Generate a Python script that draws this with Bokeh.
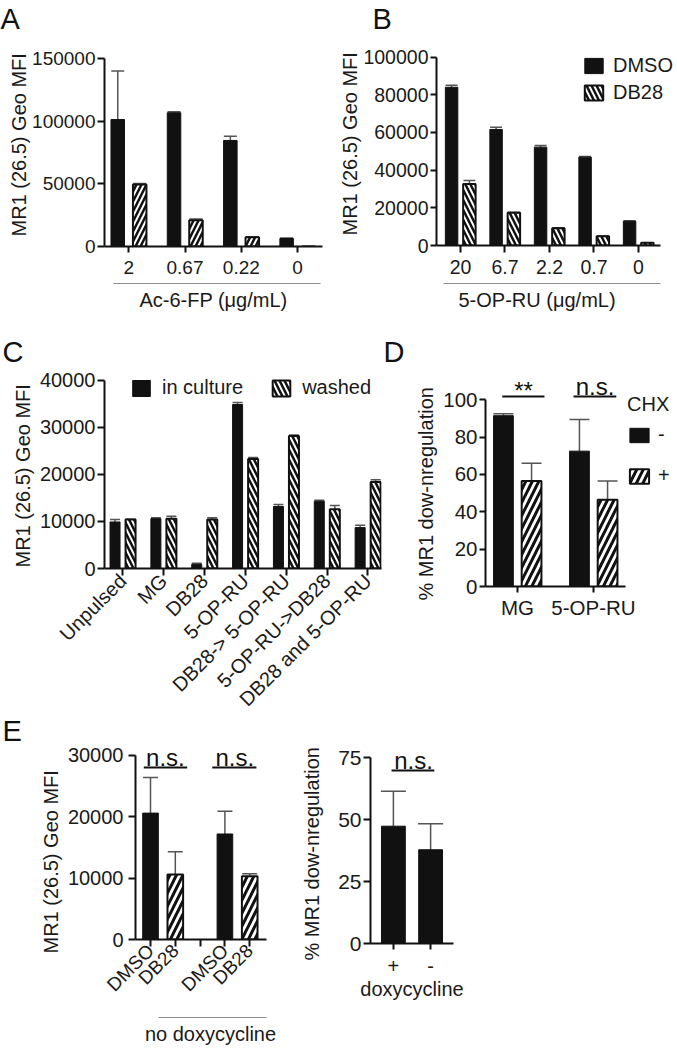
import math
from bokeh.plotting import figure
from bokeh.models import (Range1d, FixedTicker, LinearAxis, BasicTickFormatter,
                          Whisker, TeeHead, ColumnDataSource, Label, Title)
from bokeh.layouts import row, column
from bokeh.embed import file_html
from bokeh.resources import INLINE

FONT = "Liberation Sans"
INK = "#111111"
TXT = "#1a1a1a"
ERR = "#555555"
GREY = "#8c8c8c"

# ---------------- data ----------------
A_conc = ["2", "0.67", "0.22", "0"]
A_dmso = [101300, 106700, 84600, 6400]
A_dmso_err = [38700, 800, 3400, 300]
A_db28 = [49500, 21000, 7400, 0]
A_db28_err = [700, 1000, 300, 0]

B_conc = ["20", "6.7", "2.2", "0.7", "0"]
B_dmso = [84000, 61600, 52200, 46900, 12900]
B_dmso_err = [1000, 1100, 900, 300, 300]
B_db28 = [32700, 17400, 9200, 4900, 1400]
B_db28_err = [1800, 300, 200, 200, 100]

C_cond = ["Unpulsed", "MG", "DB28", "5-OP-RU", "DB28-> 5-OP-RU",
          "5-OP-RU->DB28", "DB28 and 5-OP-RU"]
C_culture = [9900, 10600, 900, 34900, 13200, 14300, 8700]
C_culture_err = [500, 200, 200, 400, 400, 200, 500]
C_washed = [10400, 10600, 10400, 23300, 28200, 12600, 18400]
C_washed_err = [100, 500, 400, 300, 200, 800, 500]

D_groups = ["MG", "5-OP-RU"]
D_minus = [91.5, 72.5]
D_minus_err = [1.0, 17.0]
D_plus = [56.5, 46.5]
D_plus_err = [9.5, 10.0]
D_sig = ["**", "n.s."]

E1_labels = ["DMSO", "DB28", "", "DMSO", "DB28"]
E1_dmso = [20600, 17200]
E1_dmso_err = [5800, 3700]
E1_db28 = [10600, 10300]
E1_db28_err = [3700, 400]
E1_sig = ["n.s.", "n.s."]

E2_labels = ["+", "-"]
E2_vals = [47.3, 37.8]
E2_err = [14.1, 10.5]
E2_sig = ["n.s."]


# ---------------- helpers ----------------
def base_fig(w, h, borders, xr, yr, letter, letter_offset, letter_standoff):
    bl, br, bt, bb = borders
    p = figure(width=w, height=h, x_range=Range1d(*xr), y_range=Range1d(*yr),
               min_border_left=bl, min_border_right=br,
               min_border_top=bt, min_border_bottom=bb,
               output_backend="svg", toolbar_location=None, tools="",
               frame_align=False)
    p.outline_line_color = None
    p.xgrid.visible = False
    p.ygrid.visible = False
    p.background_fill_color = None
    p.border_fill_color = None
    t = p.title
    t.text = letter
    t.align = "left"
    t.offset = letter_offset
    t.standoff = letter_standoff
    t.text_font = FONT
    t.text_font_size = "29px"
    t.text_font_style = "normal"
    t.text_color = INK
    return p


def axis_common(ax, tick_size, tick_out, standoff):
    ax.axis_line_color = INK
    ax.axis_line_width = 2
    ax.major_tick_line_color = INK
    ax.major_tick_line_width = 2
    ax.major_tick_out = tick_out
    ax.major_tick_in = 0
    ax.minor_tick_line_color = None
    ax.minor_tick_out = 0
    ax.minor_tick_in = 0
    ax.major_label_text_font = FONT
    ax.major_label_text_font_size = tick_size
    ax.major_label_text_color = TXT
    ax.major_label_standoff = standoff
    ax.axis_label_text_font = FONT
    ax.axis_label_text_font_size = "20px"
    ax.axis_label_text_font_style = "normal"
    ax.axis_label_text_color = TXT


def style_y(p, ticks, label, tick_size, tick_out, standoff, label_offset, label_standoff):
    ax = p.yaxis[0]
    ax.ticker = FixedTicker(ticks=ticks)
    ax.formatter = BasicTickFormatter(use_scientific=False)
    ax.bounds = (0, ticks[-1])
    axis_common(ax, tick_size, tick_out, standoff)
    p.add_layout(Title(text=label, align="left", offset=label_offset,
                       standoff=label_standoff, text_font=FONT,
                       text_font_size="20px", text_font_style="normal",
                       text_color=TXT), "left")


def style_x(p, labels, tick_size, tick_out, standoff, bounds=None,
            orientation=None, spacer=None, label=None, label_standoff=0):
    ax = p.xaxis[0]
    ax.ticker = FixedTicker(ticks=list(range(len(labels))))
    ax.major_label_overrides = {i: lab for i, lab in enumerate(labels)}
    axis_common(ax, tick_size, tick_out, standoff)
    if bounds is not None:
        ax.bounds = bounds
    if orientation is not None:
        ax.major_label_orientation = orientation
    if label is not None:
        ax.axis_label = label
        ax.axis_label_standoff = label_standoff
    elif spacer is not None:
        ax.axis_label = "\u00a0"
        ax.axis_label_text_font_size = "1px"
        ax.axis_label_standoff = spacer


def group_axis(p, lo, hi, text, standoff, title_offset=None):
    ax = LinearAxis(ticker=FixedTicker(ticks=[]), bounds=(lo, hi))
    ax.axis_line_color = GREY
    ax.axis_line_width = 1.2
    ax.major_tick_out = 0
    ax.major_tick_in = 0
    ax.minor_tick_out = 0
    ax.minor_tick_in = 0
    ax.major_tick_line_color = None
    ax.minor_tick_line_color = None
    ax.major_label_standoff = 0
    ax.axis_label_text_font = FONT
    ax.axis_label_text_font_size = "20px"
    ax.axis_label_text_font_style = "normal"
    ax.axis_label_text_color = TXT
    p.add_layout(ax, "below")
    if title_offset is None:
        ax.axis_label = text
        ax.axis_label_standoff = standoff
    else:
        p.add_layout(Title(text=text, align="left", offset=title_offset,
                           vertical_align="top", standoff=standoff,
                           text_font=FONT, text_font_size="20px",
                           text_font_style="normal", text_color=TXT), "below")


def solid_bars(p, xs, tops, width, legend=None):
    kw = dict(x=xs, top=tops, width=width, fill_color=INK, line_color=INK, line_width=1)
    if legend:
        kw["legend_label"] = legend
    p.vbar(**kw)


def hatch_bars(p, xs, tops, width, pattern, scale, weight, legend=None):
    kw = dict(x=xs, top=tops, width=width, fill_color="white", line_color=INK,
              line_width=2, hatch_pattern=pattern, hatch_color=INK,
              hatch_scale=scale, hatch_weight=weight)
    if legend:
        kw["legend_label"] = legend
    p.vbar(**kw)


def err_bars(p, xs, tops, errs, cap):
    src = ColumnDataSource(dict(x=xs, lo=tops, hi=[t + e for t, e in zip(tops, errs)]))
    w = Whisker(source=src, base="x", lower="lo", upper="hi", dimension="height",
                line_color=ERR, line_width=1.5, lower_head=None,
                upper_head=TeeHead(size=cap, line_color=ERR, line_width=1.5))
    p.add_layout(w)


def sig(p, texts, xs, x0s, x1s, y, offsets):
    p.segment(x0=x0s, y0=[y] * len(x0s), x1=x1s, y1=[y] * len(x1s),
              line_width=2, line_color=INK)
    for t, x, off in zip(texts, xs, offsets):
        p.add_layout(Label(x=x, y=y, text=t, text_font=FONT, text_font_size="24px",
                           text_color=INK, text_align="center",
                           text_baseline="alphabetic", y_offset=off))


def legend_style(p, loc, gw, gh, spacing, standoff, orientation="vertical"):
    lg = p.legend[0]
    lg.location = loc
    lg.orientation = orientation
    lg.glyph_width = gw
    lg.glyph_height = gh
    lg.label_text_font = FONT
    lg.label_text_font_size = "20px"
    lg.label_text_color = TXT
    lg.label_standoff = standoff
    lg.spacing = spacing
    lg.padding = 0
    lg.margin = 0
    lg.border_line_color = None
    lg.background_fill_alpha = 0
    return lg


def shift(xs, d):
    return [x + d for x in xs]


# ---------------- panel A ----------------
pA = base_fig(330, 318, (104, 8, 35, 72), (-0.43, 3.442), (0, 168351), "A", -104, 1)
style_y(pA, [0, 50000, 100000, 150000], "MR1 (26.5) Geo MFI", "19px", 7, 2, 10, 0)
style_x(pA, A_conc, "19px", 6, 8, spacer=3)
group_axis(pA, -0.27, 3.41, "Ac-6-FP (μg/mL)", 5)
xa = list(range(len(A_conc)))
solid_bars(pA, shift(xa, -0.195), A_dmso, 0.24)
hatch_bars(pA, shift(xa, 0.195), A_db28, 0.24, "/", 10, 2.5)
err_bars(pA, shift(xa, -0.195), A_dmso, A_dmso_err, 13)
err_bars(pA, shift(xa, 0.195), A_db28, A_db28_err, 13)

# ---------------- panel B ----------------
pB = base_fig(347, 318, (106, 0, 35, 73), (-0.539, 4.877), (0, 111465), "B", -64, 1)
style_y(pB, [0, 20000, 40000, 60000, 80000, 100000], "MR1 (26.5) Geo MFI",
        "19.5px", 6, 2, 10, 0)
style_x(pB, B_conc, "19.5px", 7, 7, bounds=(-0.539, 4.494), spacer=3)
group_axis(pB, -0.38, 4.49, "5-OP-RU (μg/mL)", 10, title_offset=22)
xb = list(range(len(B_conc)))
solid_bars(pB, shift(xb, -0.2), B_dmso, 0.28, legend="DMSO")
hatch_bars(pB, shift(xb, 0.2), B_db28, 0.28, "\\", 10, 2.5, legend="DB28")
err_bars(pB, shift(xb, -0.2), B_dmso, B_dmso_err, 12)
err_bars(pB, shift(xb, 0.2), B_db28, B_db28_err, 12)
legend_style(pB, (146, 141), 23, 19, 4, 8)

# ---------------- panel C ----------------
pC = base_fig(382, 412, (104, 1, 50, 162), (-0.448, 6.333), (0, 42553), "C", -102, 2)
style_y(pC, [0, 10000, 20000, 30000, 40000], "MR1 (26.5) Geo MFI", "20px", 7, 2, 1, 5)
style_x(pC, C_cond, "20px", 7, 2, orientation=math.pi / 4)
xc = list(range(len(C_cond)))
solid_bars(pC, shift(xc, -0.19), C_culture, 0.245, legend="in culture")
hatch_bars(pC, shift(xc, 0.19), C_washed, 0.245, "\\", 10, 2.5, legend="washed")
err_bars(pC, shift(xc, -0.19), C_culture, C_culture_err, 10)
err_bars(pC, shift(xc, 0.19), C_washed, C_washed_err, 10)
legend_style(pC, (26, 169), 22, 20, 27, 10, orientation="horizontal")

# ---------------- panel D ----------------
pD = base_fig(295, 412, (103, 0, 50, 144), (-0.421, 2.105), (0, 116.77), "D", -102, 2)
style_y(pD, [0, 20, 40, 60, 80, 100], "% MR1 dow-nregulation", "20.5px", 6, 2, -14, 7)
style_x(pD, D_groups, "20.5px", 6, 3, bounds=(-0.421, 1.421))
xd = list(range(len(D_groups)))
solid_bars(pD, shift(xd, -0.185), D_minus, 0.26, legend="-")
hatch_bars(pD, shift(xd, 0.185), D_plus, 0.26, "/", 13, 3, legend="+")
err_bars(pD, shift(xd, -0.185), D_minus, D_minus_err, 20)
err_bars(pD, shift(xd, 0.185), D_plus, D_plus_err, 20)
lgD = legend_style(pD, (142, 99), 24, 18, 18, 7)
lgD.title = "CHX"
lgD.title_text_font = FONT
lgD.title_text_font_size = "20px"
lgD.title_text_font_style = "normal"
lgD.title_text_color = TXT
lgD.title_standoff = 7
sig(pD, D_sig, [0.08, 1.02], [-0.2, 0.737], [0.355, 1.3], 101.8, [6, 10])

# ---------------- panel E (left) ----------------
pE1 = base_fig(286, 337, (135, 1, 34, 110), (-0.605, 5.443), (0, 31297), "E", -133, 1)
style_y(pE1, [0, 10000, 20000, 30000], "MR1 (26.5) Geo MFI", "20px", 7, 5, -14, 5)
style_x(pE1, E1_labels, "19px", 7, 1, bounds=(-0.605, 4.677),
        orientation=math.pi / 4, spacer=8)
group_axis(pE1, 0.32, 4.677, "no doxycycline", 5)
solid_bars(pE1, [0, 3], E1_dmso, 0.63)
hatch_bars(pE1, [1, 4], E1_db28, 0.63, "/", 13, 3)
err_bars(pE1, [0, 3], E1_dmso, E1_dmso_err, 15)
err_bars(pE1, [1, 4], E1_db28, E1_db28_err, 15)
sig(pE1, E1_sig, [0.6, 3.4], [-0.27, 2.49], [1.48, 4.27], 28050, [10, 10])

# ---------------- panel E (right) ----------------
pE2 = base_fig(391, 337, (80, 224, 34, 106), (-0.615, 1.615), (0, 79.44), "", 0, 1)
style_y(pE2, [0, 25, 50, 75], "% MR1 dow-nregulation", "21px", 7, 2, -17, 25)
style_x(pE2, E2_labels, "20px", 6, 9, label="doxycycline", label_standoff=2)
xe = list(range(len(E2_labels)))
solid_bars(pE2, xe, E2_vals, 0.64)
err_bars(pE2, xe, E2_vals, E2_err, 25)
sig(pE2, E2_sig, [0.54], [-0.05], [1.1], 69.8, [10])

layout = column(row(pA, pB), row(pC, pD),
                row(pE1, pE2, margin=(-18, 0, 0, 0)))
open("out.html", "w").write(file_html(layout, INLINE))
